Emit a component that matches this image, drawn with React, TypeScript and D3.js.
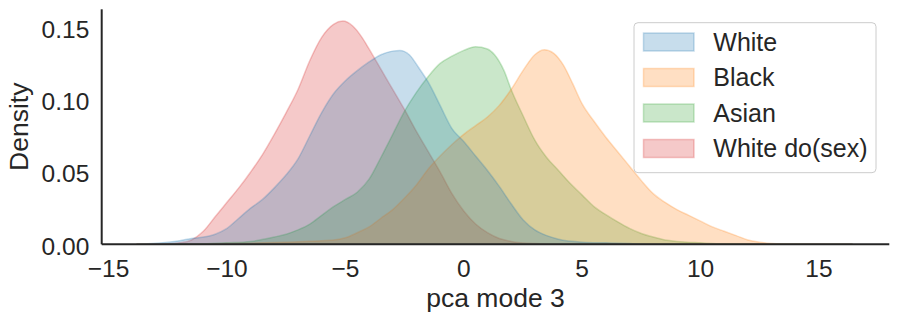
import React from "react";
import * as d3 from "d3";

// ---- data ----
const seriesNames = ["White", "Black", "Asian", "White do(sex)"];
const seriesColors = ["#1f77b4", "#ff7f0e", "#2ca02c", "#d62728"];

const whiteX = [-13.8, -13.0, -12.5, -12.0, -11.5, -11.0, -10.5, -10.0, -9.5, -9.0, -8.5, -8.0, -7.5, -7.0, -6.5, -6.0, -5.5, -5.0, -4.5, -4.0, -3.5, -3.0, -2.7, -2.3, -1.9, -1.5, -1.0, -0.5, 0.0, 0.5, 1.0, 1.5, 2.0, 2.5, 3.0, 3.5, 4.0, 5.0, 6.0, 7.0, 8.0, 16.4];
const whiteY = [0, 0.0008, 0.0015, 0.0025, 0.004, 0.005, 0.007, 0.011, 0.018, 0.025, 0.031, 0.039, 0.048, 0.059, 0.075, 0.091, 0.104, 0.113, 0.120, 0.126, 0.131, 0.1335, 0.134, 0.131, 0.122, 0.112, 0.096, 0.080, 0.071, 0.061, 0.051, 0.040, 0.028, 0.017, 0.010, 0.006, 0.0035, 0.0015, 0.001, 0.0005, 0.0002, 0];

const blackX = [-13.8, -11, -10, -9, -8, -7, -6, -5.5, -5.0, -4.5, -4.0, -3.5, -3.0, -2.5, -2.0, -1.5, -1.0, -0.5, 0.0, 0.5, 1.0, 1.5, 2.0, 2.5, 3.0, 3.4, 3.8, 4.2, 4.6, 5.0, 5.5, 6.0, 6.5, 7.0, 7.5, 8.0, 8.5, 9.0, 9.5, 10.0, 10.5, 11.0, 11.5, 12.0, 12.5, 13.0, 14.0, 16.4];
const blackY = [0, 0.0002, 0.0005, 0.0008, 0.0012, 0.0018, 0.0025, 0.003, 0.0045, 0.008, 0.012, 0.018, 0.024, 0.032, 0.041, 0.052, 0.061, 0.069, 0.076, 0.082, 0.088, 0.096, 0.107, 0.120, 0.131, 0.1345, 0.132, 0.124, 0.111, 0.097, 0.085, 0.074, 0.064, 0.054, 0.044, 0.035, 0.029, 0.024, 0.020, 0.016, 0.012, 0.009, 0.006, 0.003, 0.0015, 0.0006, 0.0002, 0];

const asianX = [-13.8, -11, -10, -9.0, -8.0, -7.5, -7.0, -6.5, -6.0, -5.5, -5.0, -4.5, -4.0, -3.5, -3.0, -2.5, -2.0, -1.5, -1.0, -0.5, 0.0, 0.5, 1.0, 1.3, 1.7, 2.0, 2.5, 3.0, 3.5, 4.0, 4.5, 5.0, 5.5, 6.0, 6.5, 7.0, 7.5, 8.0, 8.5, 9.0, 10.0, 11.0, 16.4];
const asianY = [0, 0.0003, 0.001, 0.002, 0.005, 0.007, 0.010, 0.014, 0.020, 0.026, 0.031, 0.036, 0.045, 0.060, 0.076, 0.092, 0.105, 0.116, 0.125, 0.130, 0.134, 0.1365, 0.135, 0.131, 0.120, 0.107, 0.089, 0.072, 0.060, 0.051, 0.042, 0.034, 0.026, 0.0205, 0.0155, 0.011, 0.0075, 0.005, 0.003, 0.002, 0.001, 0.0003, 0];

const doSexX = [-13.8, -12.5, -12.0, -11.5, -11.0, -10.5, -10.0, -9.5, -9.0, -8.5, -8.0, -7.5, -7.0, -6.5, -6.0, -5.5, -5.1, -4.7, -4.3, -4.0, -3.5, -3.0, -2.5, -2.0, -1.5, -1.0, -0.5, 0.0, 0.5, 1.0, 1.5, 2.0, 3.0, 4.0, 16.4];
const doSexY = [0, 0.0003, 0.001, 0.003, 0.009, 0.019, 0.029, 0.039, 0.050, 0.062, 0.076, 0.091, 0.107, 0.127, 0.143, 0.152, 0.1543, 0.151, 0.143, 0.135, 0.121, 0.107, 0.093, 0.078, 0.064, 0.050, 0.035, 0.023, 0.014, 0.008, 0.004, 0.002, 0.0005, 0.0001, 0];

const seriesX = [whiteX, blackX, asianX, doSexX];
const seriesY = [whiteY, blackY, asianY, doSexY];

const xTicks = [-15, -10, -5, 0, 5, 10, 15];
const yTicks = [0, 0.05, 0.1, 0.15];

const W = 899;
const H = 322;
const FONT = "'Liberation Sans', Arial, Helvetica, sans-serif";
const TEXT = "#262626";
const TICK_FS = 24.5;
const LABEL_FS = 26.5;

export default function App() {
  const left = 101.7;
  const right = 889.3;
  const top = 9.3;
  const bottom = 244.3;

  const x = d3.scaleLinear().domain([-15.29, 17.97]).range([left, right]);
  const y = d3.scaleLinear().domain([0, 0.1624]).range([bottom, top]);

  const area = d3
    .area<[number, number]>()
    .x((d) => x(d[0]))
    .y0(y(0))
    .y1((d) => y(d[1]))
    .curve(d3.curveMonotoneX);

  const order = [3, 2, 1, 0]; // last hue drawn first, first hue on top

  const legX = 634;
  const legY = 22.7;
  const legW = 242;
  const legH = 150;
  const rowH = 35.5;

  return (
    <svg
      width={W}
      height={H}
      style={{ position: "absolute", left: 0, top: 0, background: "#fff" }}
      fontFamily={FONT}
    >
      <rect x={0} y={0} width={W} height={H} fill="#fff" />
      {order.map((i) => {
        const pts: [number, number][] = seriesX[i].map((v, k) => [v, seriesY[i][k]]);
        return (
          <path
            key={i}
            d={area(pts) || ""}
            fill={seriesColors[i]}
            fillOpacity={0.25}
            stroke={seriesColors[i]}
            strokeOpacity={0.25}
            strokeWidth={1.5}
            strokeLinejoin="round"
          />
        );
      })}

      {/* axes */}
      <line x1={left} x2={left} y1={top} y2={bottom} stroke={TEXT} strokeWidth={2} />
      <line x1={left} x2={right} y1={bottom} y2={bottom} stroke={TEXT} strokeWidth={2} />

      {xTicks.map((t) => (
        <text
          key={t}
          x={x(t)}
          y={276.5}
          textAnchor="middle"
          fontSize={TICK_FS}
          fill={TEXT}
        >
          {t < 0 ? "\u2212" + Math.abs(t) : String(t)}
        </text>
      ))}
      {yTicks.map((t) => (
        <text
          key={t}
          x={89.3}
          y={y(t) + 10.3}
          textAnchor="end"
          fontSize={TICK_FS}
          fill={TEXT}
        >
          {t.toFixed(2)}
        </text>
      ))}

      <text x={(left + right) / 2} y={307} textAnchor="middle" fontSize={LABEL_FS} fill={TEXT}>
        pca mode 3
      </text>
      <text
        transform={`translate(27.5, ${(top + bottom) / 2}) rotate(-90)`}
        textAnchor="middle"
        fontSize={LABEL_FS}
        fill={TEXT}
      >
        Density
      </text>

      {/* legend */}
      <rect
        x={legX}
        y={legY}
        width={legW}
        height={legH}
        rx={4}
        ry={4}
        fill="#fff"
        fillOpacity={0.8}
        stroke="#cccccc"
        strokeWidth={1}
      />
      {seriesNames.map((name, i) => (
        <g key={name}>
          <rect
            x={643.5}
            y={33 + i * rowH}
            width={50.5}
            height={18}
            fill={seriesColors[i]}
            fillOpacity={0.25}
            stroke={seriesColors[i]}
            strokeOpacity={0.25}
            strokeWidth={1.5}
          />
          <text x={713.3} y={50.7 + i * rowH} fontSize={25} fill={TEXT}>
            {name}
          </text>
        </g>
      ))}
    </svg>
  );
}
